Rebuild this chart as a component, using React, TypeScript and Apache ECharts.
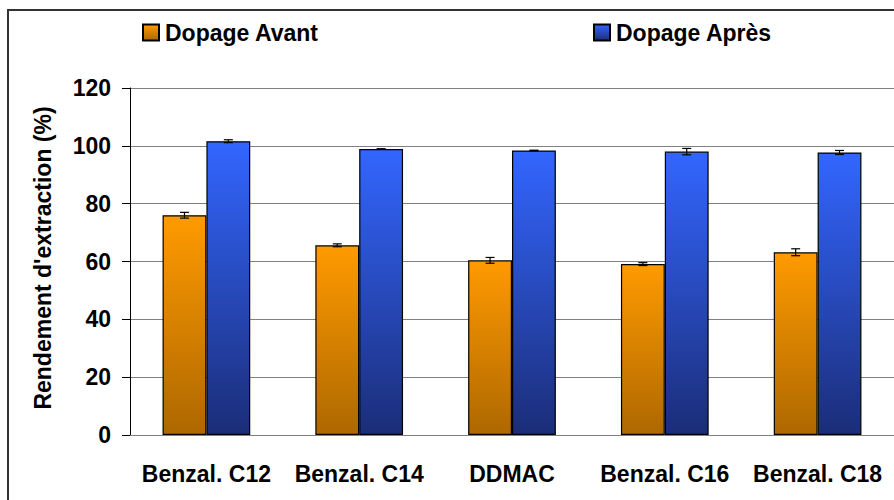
import React, { useEffect, useRef } from "react";
import * as echarts from "echarts";

const categories = ["Benzal. C12", "Benzal. C14", "DDMAC", "Benzal. C16", "Benzal. C18"];
const avant = [76.0, 65.6, 60.4, 59.1, 63.2];
const apres = [101.6, 98.9, 98.4, 98.0, 97.7];
const avantErr = [1.0, 0.5, 1.0, 0.5, 1.2];
const apresErr = [0.5, 0.1, 0.1, 1.1, 0.7];
const yTicks = [0, 20, 40, 60, 80, 100, 120];
const yTitle = "Rendement d'extraction (%)";

const FONT = "Liberation Sans";
const BAR_PCT = 0.287;

const orangeGrad = new echarts.graphic.LinearGradient(0, 0, 0, 1, [
  { offset: 0, color: "#FF9A00" },
  { offset: 1, color: "#AE6800" },
]);
const blueGrad = new echarts.graphic.LinearGradient(0, 0, 0, 1, [
  { offset: 0, color: "#3366FF" },
  { offset: 1, color: "#1B2D78" },
]);

function errSeries(values: number[], errs: number[], sign: number) {
  return {
    type: "custom",
    z: 10,
    silent: true,
    data: values.map((v, i) => [i, v - errs[i], v + errs[i]]),
    renderItem: (params: any, api: any) => {
      const catW = api.size([1, 0])[0];
      const off = (sign * catW * BAR_PCT) / 2;
      const lo = api.coord([api.value(0), api.value(1)]);
      const hi = api.coord([api.value(0), api.value(2)]);
      const x = lo[0] + off;
      const cap = 4.5;
      const st = { stroke: "#000", lineWidth: 1.2 };
      return {
        type: "group",
        children: [
          { type: "line", shape: { x1: x, y1: lo[1], x2: x, y2: hi[1] }, style: st },
          { type: "line", shape: { x1: x - cap, y1: lo[1], x2: x + cap, y2: lo[1] }, style: st },
          { type: "line", shape: { x1: x - cap, y1: hi[1], x2: x + cap, y2: hi[1] }, style: st },
        ],
      };
    },
  };
}

export default function App() {
  const ref = useRef<HTMLDivElement>(null);
  useEffect(() => {
    if (!ref.current) return;
    const chart = echarts.init(ref.current, undefined, { renderer: "svg" });
    const textBase = { fontFamily: FONT, fontWeight: "bold", color: "#000", fontSize: 23 };
    chart.setOption({
      animation: false,
      backgroundColor: "#fff",
      textStyle: { fontFamily: FONT },
      graphic: [
        {
          type: "rect",
          z: -10,
          shape: { x: 8, y: 10, width: 1000, height: 1000 },
          style: { fill: "none", stroke: "#333", lineWidth: 2 },
        },
        {
          type: "text",
          x: 43,
          y: 258,
          rotation: Math.PI / 2,
          style: {
            text: yTitle,
            fontFamily: FONT,
            fontWeight: "bold",
            fontSize: 23,
            fill: "#000",
            align: "center",
            verticalAlign: "middle",
          },
        },
      ],
      legend: [
        {
          data: ["Dopage Avant"],
          left: 137,
          top: 16,
          itemWidth: 16,
          itemHeight: 16,
          icon: "rect",
          textStyle: { ...textBase, padding: [0, 0, 0, 1] },
        },
        {
          data: ["Dopage Après"],
          left: 588,
          top: 16,
          itemWidth: 16,
          itemHeight: 16,
          icon: "rect",
          textStyle: { ...textBase, padding: [0, 0, 0, 1] },
        },
      ],
      grid: { left: 130, right: -3, top: 88, bottom: 65, containLabel: false },
      xAxis: {
        type: "category",
        data: categories,
        axisLine: { lineStyle: { color: "#808080", width: 1 } },
        axisTick: { length: 8, lineStyle: { color: "#808080" } },
        axisLabel: { ...textBase, margin: 27, interval: 0 },
      },
      yAxis: {
        type: "value",
        min: 0,
        max: 120,
        interval: 20,
        axisLine: { show: true, lineStyle: { color: "#000", width: 1 } },
        axisTick: { show: true, length: 8, lineStyle: { color: "#000" } },
        axisLabel: {
          ...textBase,
          margin: 19,
          formatter: (v: number) => (yTicks.includes(v) ? String(v) : ""),
        },
        splitLine: { lineStyle: { color: "#808080", width: 1.2 } },
      },
      series: [
        {
          name: "Dopage Avant",
          type: "bar",
          data: avant,
          barWidth: BAR_PCT * 100 + "%",
          barGap: "0%",
          itemStyle: { color: orangeGrad, borderColor: "#000", borderWidth: 1.2 },
        },
        {
          name: "Dopage Après",
          type: "bar",
          data: apres,
          barWidth: BAR_PCT * 100 + "%",
          barGap: "0%",
          itemStyle: { color: blueGrad, borderColor: "#000", borderWidth: 1.2 },
        },
        errSeries(avant, avantErr, -1),
        errSeries(apres, apresErr, 1),
      ],
    });
    return () => chart.dispose();
  }, []);
  return (
    <div
      ref={ref}
      style={{ position: "absolute", left: 0, top: 0, width: 894, height: 500 }}
    />
  );
}
